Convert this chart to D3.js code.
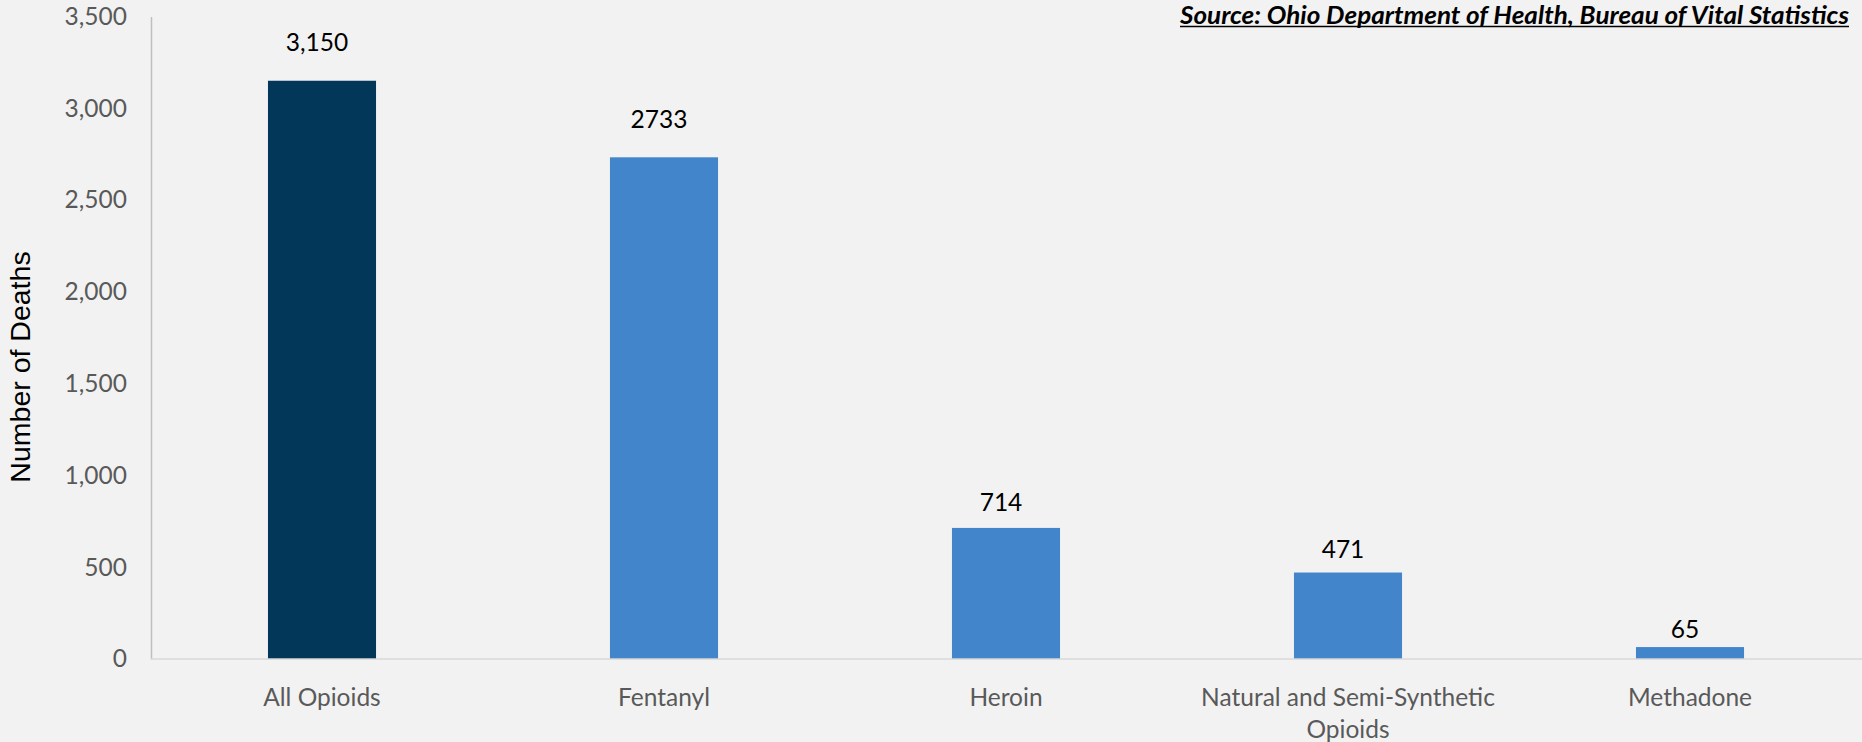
<!DOCTYPE html>
<html>
<head>
<meta charset="utf-8">
<script src="https://cdn.jsdelivr.net/npm/d3@7"></script>
<style>
  html, body { margin: 0; padding: 0; background: #f2f2f2; overflow: hidden; }
  svg { display: block; }
</style>
</head>
<body>
<svg id="chart" width="1862" height="742"></svg>
<script>
// ---- data ----
const categories = ["All Opioids", "Fentanyl", "Heroin", "Natural and Semi-Synthetic Opioids", "Methadone"];
const deaths = [3150, 2733, 714, 471, 65];
const valueLabels = ["3,150", "2733", "714", "471", "65"];
const yTicks = [0, 500, 1000, 1500, 2000, 2500, 3000, 3500];
const yTitle = "Number of Deaths";
const sourceText = "Source: Ohio Department of Health, Bureau of Vital Statistics";

// ---- style/layout ----
const W = 1862, H = 742;
const plotLeft = 151, plotRight = 1861, plotTop = 16.5, plotBottom = 659;
const labelLift = [30, 29, 17, 14.5, 9];   // manual label placement above bars
const barColors = ["#03375a", "#4285cb", "#4285cb", "#4285cb", "#4285cb"];
const fontMain = "Lato, 'Open Sans', sans-serif";

const svg = d3.select("#chart");
svg.append("rect").attr("width", W).attr("height", H).attr("fill", "#f2f2f2");

const x = d3.scaleBand().domain(categories).range([plotLeft, plotRight])
  .paddingInner(0.684).paddingOuter(0.342);
const y = d3.scaleLinear().domain([0, 3500]).range([plotBottom, plotTop]);

// y axis
const yAxis = d3.axisLeft(y).tickValues(yTicks).tickSize(0).tickPadding(24)
  .tickFormat(d3.format(","));
const gy = svg.append("g").attr("transform", `translate(${plotLeft},0)`).call(yAxis);
gy.select(".domain").attr("stroke", "#bfbfbf").attr("stroke-width", 1.5);
gy.selectAll("text").attr("fill", "#595959").attr("font-family", fontMain)
  .attr("font-size", 24.5);

// bars
svg.append("g").selectAll("rect").data(deaths).join("rect")
  .attr("x", (d, i) => x(categories[i]))
  .attr("width", x.bandwidth())
  .attr("y", d => y(d))
  .attr("height", d => y(0) - y(d))
  .attr("fill", (d, i) => barColors[i]);

// baseline
const gx = svg.append("g").attr("transform", `translate(0,${plotBottom})`)
  .call(d3.axisBottom(x).tickSize(0).tickPadding(0).tickFormat(""));
gx.select(".domain").attr("stroke", "#d9d9d9").attr("stroke-width", 1.5)
  .attr("d", `M${plotLeft},0H${W}`);

// x labels with wrapping
const xl = svg.append("g");
categories.forEach((c, i) => {
  const cx = x(c) + x.bandwidth() / 2;
  const t = xl.append("text")
    .attr("x", cx)
    .attr("y", plotBottom + 47)
    .attr("text-anchor", "middle")
    .attr("fill", "#595959")
    .attr("font-family", fontMain)
    .attr("font-size", 24.5);
  const words = c.split(" ");
  let line = [];
  let tspan = t.append("tspan").attr("x", cx).attr("dy", 0);
  words.forEach(w => {
    line.push(w);
    tspan.text(line.join(" "));
    if (tspan.node().getComputedTextLength() > 320 && line.length > 1) {
      line.pop();
      tspan.text(line.join(" "));
      line = [w];
      tspan = t.append("tspan").attr("x", cx).attr("dy", 32).text(w);
    }
  });
});

// value labels
svg.append("g").selectAll("text").data(deaths).join("text")
  .attr("x", (d, i) => x(categories[i]) + x.bandwidth() / 2 - 5)
  .attr("y", (d, i) => y(d) - labelLift[i])
  .attr("text-anchor", "middle")
  .attr("fill", "#000")
  .attr("font-family", fontMain)
  .attr("font-size", 24.5)
  .text((d, i) => valueLabels[i]);

// y title
svg.append("text")
  .attr("transform", "translate(30,367) rotate(-90)")
  .attr("text-anchor", "middle")
  .attr("font-family", "'Liberation Sans', Arial, sans-serif")
  .attr("font-size", 28.5)
  .attr("fill", "#000")
  .text(yTitle);

// source
svg.append("text")
  .attr("x", 1849).attr("y", 24)
  .attr("text-anchor", "end")
  .attr("font-family", fontMain)
  .attr("font-size", 24)
  .attr("font-weight", "bold")
  .attr("font-style", "italic")
  .attr("fill", "#000")
  .attr("textLength", 669)
  .attr("lengthAdjust", "spacingAndGlyphs")
  .text(sourceText);
svg.append("line")
  .attr("x1", 1180).attr("x2", 1849)
  .attr("y1", 26.5).attr("y2", 26.5)
  .attr("stroke", "#000").attr("stroke-width", 1.5);
</script>
</body>
</html>
